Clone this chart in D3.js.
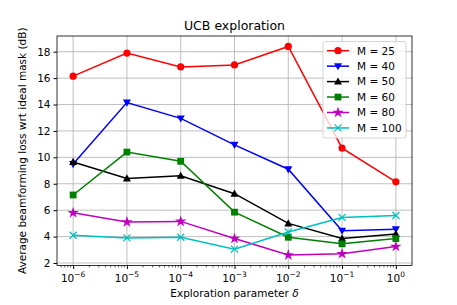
<!DOCTYPE html>
<html>
<head>
<meta charset="utf-8">
<script src="https://cdn.jsdelivr.net/npm/d3@7.9.0/dist/d3.min.js"></script>
<style>
  body { margin: 0; background: #fff; }
  svg text { font-family: 'DejaVu Sans', sans-serif; }
</style>
</head>
<body>
<svg width="457" height="305"></svg>
<script>
// exploration parameter delta (log10 values)
const deltaExp = [-6, -5, -4, -3, -2, -1, 0];
const seriesNames = ['M = 25', 'M = 40', 'M = 50', 'M = 60', 'M = 80', 'M = 100'];
const m25 = [16.15, 17.9, 16.85, 17.0, 18.4, 10.7, 8.15];
const m40 = [9.5, 14.15, 12.95, 10.95, 9.1, 4.45, 4.55];
const m50 = [9.65, 8.4, 8.6, 7.25, 5.0, 3.85, 4.2];
const m60 = [7.15, 10.4, 9.7, 5.85, 3.95, 3.45, 3.85];
const m80 = [5.8, 5.1, 5.15, 3.85, 2.6, 2.7, 3.25];
const m100 = [4.1, 3.9, 3.95, 3.05, 4.35, 5.45, 5.6];
const yTicks = [2, 4, 6, 8, 10, 12, 14, 16, 18];

const colors = ['#ff0000', '#0000ff', '#000000', '#008000', '#bf00bf', '#00bfbf'];
const symbols = ['circle', 'tridown', 'triup', 'square', 'star', 'x'];
const allSeries = [m25, m40, m50, m60, m80, m100];

const svg = d3.select('svg');
const pLeft = 57, pRight = 412, pTop = 36, pBottom = 265.5;

const x = d3.scaleLog().domain([Math.pow(10, -6.3), Math.pow(10, 0.3)]).range([pLeft, pRight]);
const y = d3.scaleLinear().domain([1.81, 19.19]).range([pBottom, pTop]);

// grid
const g = svg.append('g');
deltaExp.forEach(e => {
  g.append('line').attr('x1', x(Math.pow(10, e))).attr('x2', x(Math.pow(10, e)))
    .attr('y1', pTop).attr('y2', pBottom).attr('stroke', '#b0b0b0').attr('stroke-width', 0.8);
});
yTicks.forEach(t => {
  g.append('line').attr('x1', pLeft).attr('x2', pRight).attr('y1', y(t)).attr('y2', y(t))
    .attr('stroke', '#b0b0b0').attr('stroke-width', 0.8);
});

// axes
const xAxis = d3.axisBottom(x).tickValues(deltaExp.map(e => Math.pow(10, e))).tickSize(3.5).tickFormat('');
const gx = svg.append('g').attr('transform', `translate(0,${pBottom})`).call(xAxis);
gx.select('.domain').remove();
const minors = [];
for (let e = -7; e <= 0; e++) for (let k = 2; k <= 9; k++) {
  const v = k * Math.pow(10, e);
  if (v >= x.domain()[0] && v <= x.domain()[1]) minors.push(v);
}
minors.forEach(v => {
  svg.append('line').attr('x1', x(v)).attr('x2', x(v)).attr('y1', pBottom).attr('y2', pBottom + 2)
    .attr('stroke', '#000').attr('stroke-width', 0.6);
});
deltaExp.forEach(e => {
  const t = svg.append('text').attr('x', x(Math.pow(10, e))).attr('y', pBottom + 16)
    .attr('text-anchor', 'middle').attr('font-size', 10.5);
  t.append('tspan').text('10');
  t.append('tspan').attr('dy', -5).attr('font-size', 7.5).text(e < 0 ? '\u2212' + (-e) : e);
});

const yAxis = d3.axisLeft(y).tickValues(yTicks).tickSize(3.5).tickPadding(3);
const gy = svg.append('g').attr('transform', `translate(${pLeft},0)`).call(yAxis);
gy.select('.domain').remove();
gy.selectAll('text').attr('font-size', 10.5).attr('font-family', 'DejaVu Sans');

svg.append('rect').attr('x', pLeft).attr('y', pTop).attr('width', pRight - pLeft).attr('height', pBottom - pTop)
  .attr('fill', 'none').attr('stroke', '#000').attr('stroke-width', 0.8);

// marker
function marker(sel, type, color) {
  if (type === 'circle') {
    sel.append('circle').attr('r', 3.6).attr('fill', color);
  } else if (type === 'square') {
    sel.append('rect').attr('x', -3.4).attr('y', -3.4).attr('width', 6.8).attr('height', 6.8).attr('fill', color);
  } else if (type === 'triup') {
    sel.append('path').attr('d', 'M0,-4.2L4,3L-4,3Z').attr('fill', color);
  } else if (type === 'tridown') {
    sel.append('path').attr('d', 'M0,4.2L4,-3L-4,-3Z').attr('fill', color);
  } else if (type === 'star') {
    sel.append('path').attr('d', d3.symbol(d3.symbolStar, 40)()).attr('fill', color);
  } else if (type === 'x') {
    sel.append('path').attr('d', 'M-3.5,-3.5L3.5,3.5M-3.5,3.5L3.5,-3.5').attr('stroke', color)
      .attr('stroke-width', 1.2).attr('fill', 'none');
  }
}

const line = d3.line().x((d, i) => x(Math.pow(10, deltaExp[i]))).y(d => y(d));
allSeries.forEach((vals, si) => {
  svg.append('path').datum(vals).attr('d', line).attr('fill', 'none')
    .attr('stroke', colors[si]).attr('stroke-width', 1.5);
  vals.forEach((v, i) => {
    const m = svg.append('g').attr('transform', `translate(${x(Math.pow(10, deltaExp[i]))},${y(v)})`);
    marker(m, symbols[si], colors[si]);
  });
});

// legend
const lg = svg.append('g');
lg.append('rect').attr('x', 323).attr('y', 41.5).attr('width', 83).attr('height', 96.5).attr('rx', 2)
  .attr('fill', 'rgba(255,255,255,0.8)').attr('stroke', '#cccccc').attr('stroke-width', 0.8);
seriesNames.forEach((name, i) => {
  const cy = 50.7 + i * 15.45;
  lg.append('line').attr('x1', 327).attr('x2', 349).attr('y1', cy).attr('y2', cy)
    .attr('stroke', colors[i]).attr('stroke-width', 1.5);
  const m = lg.append('g').attr('transform', `translate(338,${cy})`);
  marker(m, symbols[i], colors[i]);
  lg.append('text').attr('x', 357).attr('y', cy + 3.8).attr('font-size', 10.5).text(name);
});

// labels
svg.append('text').attr('x', (pLeft + pRight) / 2).attr('y', 30).attr('text-anchor', 'middle')
  .attr('font-size', 12.5).text('UCB exploration');
const xl = svg.append('text').attr('x', (pLeft + pRight) / 2).attr('y', 297).attr('text-anchor', 'middle')
  .attr('font-size', 10.5);
xl.append('tspan').text('Exploration parameter ');
xl.append('tspan').attr('font-style', 'italic').text('\u03b4');
svg.append('text').attr('transform', `translate(26,${(pTop + pBottom) / 2}) rotate(-90)`)
  .attr('text-anchor', 'middle').attr('font-size', 10.5)
  .text('Average beamforming loss wrt ideal mask (dB)');
</script>
</body>
</html>
